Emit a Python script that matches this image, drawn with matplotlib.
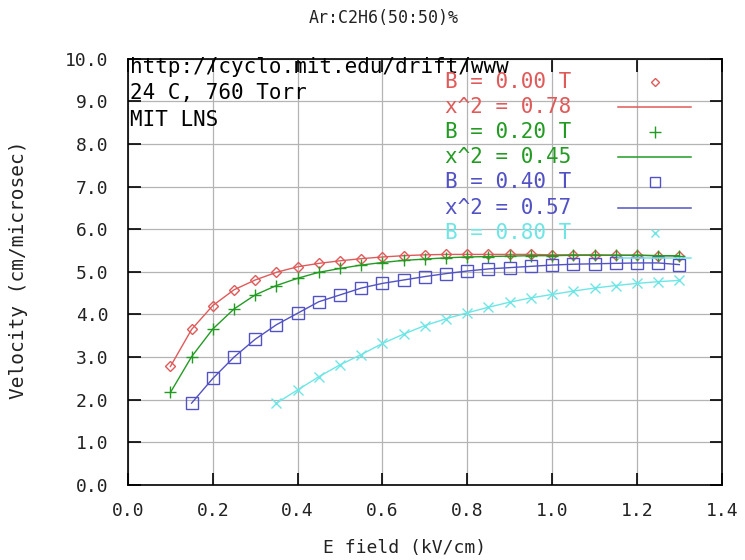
import numpy as np
import matplotlib
matplotlib.use("Agg")
import matplotlib.pyplot as plt

# E field values (kV/cm) and drift velocities (cm/microsec)
e_red = [0.10, 0.15, 0.20, 0.25, 0.30, 0.35, 0.40, 0.45, 0.50, 0.55, 0.60, 0.65, 0.70,
         0.75, 0.80, 0.85, 0.90, 0.95, 1.00, 1.05, 1.10, 1.15, 1.20, 1.25, 1.30]
v_red = [2.78, 3.65, 4.21, 4.58, 4.81, 4.99, 5.12, 5.20, 5.26, 5.31, 5.35, 5.38, 5.40,
         5.41, 5.41, 5.41, 5.41, 5.41, 5.40, 5.40, 5.40, 5.39, 5.39, 5.38, 5.37]

e_green = e_red
v_green = [2.17, 3.01, 3.66, 4.13, 4.46, 4.68, 4.85, 4.99, 5.08, 5.16, 5.22, 5.27, 5.30,
           5.33, 5.35, 5.36, 5.37, 5.38, 5.38, 5.39, 5.39, 5.39, 5.39, 5.38, 5.38]

e_blue = e_red[1:]
v_blue = [1.92, 2.50, 3.00, 3.42, 3.76, 4.03, 4.30, 4.46, 4.62, 4.73, 4.81, 4.89,
          4.96, 5.02, 5.07, 5.10, 5.13, 5.16, 5.18, 5.19, 5.20, 5.21, 5.21, 5.17]

e_cyan = e_red[5:]
v_cyan = [1.92, 2.23, 2.54, 2.82, 3.06, 3.32, 3.54, 3.74, 3.90, 4.04, 4.17, 4.29,
          4.39, 4.47, 4.55, 4.62, 4.68, 4.73, 4.77, 4.80]

b_labels = ["B = 0.00 T", "B = 0.20 T", "B = 0.40 T", "B = 0.80 T"]
chi_labels = ["x^2 = 0.78", "x^2 = 0.45", "x^2 = 0.57", ""]
notes = ["http://cyclo.mit.edu/drift/www", "24 C, 760 Torr", "MIT LNS"]

x_ticks = [0.0, 0.2, 0.4, 0.6, 0.8, 1.0, 1.2, 1.4]
y_ticks = [0.0, 1.0, 2.0, 3.0, 4.0, 5.0, 6.0, 7.0, 8.0, 9.0, 10.0]

colors = ["#e05a5a", "#239b23", "#5252c4", "#6ee6e6"]
markers = ["D", "+", "s", "x"]
msizes = [5.5, 9, 8, 7]
mono = "DejaVu Sans Mono"

fig = plt.figure(figsize=(7.45, 5.6), dpi=100)
ax = fig.add_axes([0.1718, 0.134, 0.797, 0.761])

series = [(e_red, v_red), (e_green, v_green), (e_blue, v_blue), (e_cyan, v_cyan)]
for (ex, vy), c, m, ms in zip(series, colors, markers, msizes):
    ax.plot(ex, vy, color=c, lw=1.0, marker=m, ms=ms, mfc="none", mec=c, mew=1.0)

ax.set_xlim(0.0, 1.4)
ax.set_ylim(0.0, 10.0)
ax.set_xticks(x_ticks)
ax.set_yticks(y_ticks)
ax.set_xticklabels([f"{t:.1f}" for t in x_ticks], family=mono, fontsize=13, color="#222222")
ax.set_yticklabels([f"{t:.1f}" for t in y_ticks], family=mono, fontsize=13, color="#222222")
ax.tick_params(direction="in", length=9, width=1.2, top=True, right=True,
               pad=12, colors="black", labelcolor="#222222")
ax.tick_params(axis="y", pad=14)
ax.grid(True, color="#b4b4b4", lw=0.9)
for sp in ax.spines.values():
    sp.set_linewidth(1.2)

ax.set_xlabel("E field (kV/cm)", family=mono, fontsize=13, color="#222222", va="center")
ax.xaxis.set_label_coords(0.465, -0.148)
ax.set_ylabel("Velocity (cm/microsec)", family=mono, fontsize=14, color="#222222", va="center")
ax.yaxis.set_label_coords(-0.185, 0.505)
fig.text(0.515, 0.968, "Ar:C2H6(50:50)%", family=mono, fontsize=12,
         color="#222222", ha="center", va="center")

# notes at top left
for i, s in enumerate(notes):
    ax.text(0.004, 0.981 - i * 0.062, s, transform=ax.transAxes, family=mono,
            fontsize=15, color="black", ha="left", va="center")

# gnuplot-style key: label rows with a marker sample, then a fit-line sample
row0, step = 0.946, 0.059
for i, c in enumerate(colors):
    yb = row0 - 2 * i * step
    yc = yb - step
    ax.text(0.534, yb, b_labels[i], transform=ax.transAxes, family=mono,
            fontsize=15, color=c, ha="left", va="center")
    ax.plot([0.887], [yb], transform=ax.transAxes, color=c, marker=markers[i],
            ms=msizes[i] - 1, mfc="none", mec=c, mew=1.0, ls="none", clip_on=False)
    if chi_labels[i]:
        ax.text(0.534, yc, chi_labels[i], transform=ax.transAxes, family=mono,
                fontsize=15, color=c, ha="left", va="center")
    ax.plot([0.825, 0.949], [yc, yc], transform=ax.transAxes, color=c, lw=1.1)

fig.savefig("out.png", dpi=100)
